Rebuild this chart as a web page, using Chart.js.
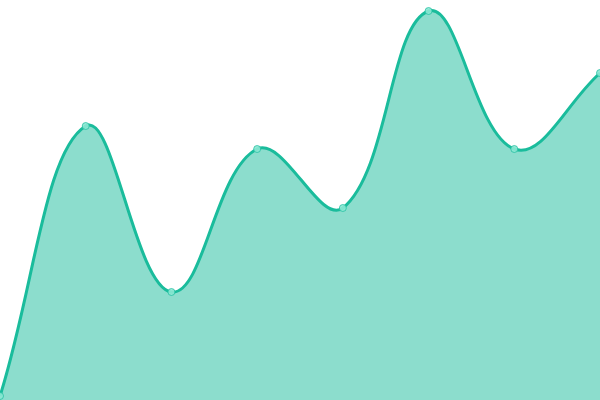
<!DOCTYPE html>
<html>
<head>
<meta charset="utf-8">
<script src="https://cdn.jsdelivr.net/npm/chart.js@4"></script>
<style>
  html, body { margin: 0; padding: 0; background: #fff; }
  #wrap { width: 600px; height: 400px; }
</style>
</head>
<body>
<div id="wrap"><canvas id="areaChart"></canvas></div>
<script>
const labels = ['A', 'B', 'C', 'D', 'E', 'F', 'G', 'H'];
const values = [4, 274, 108, 251, 192, 389, 251, 327];

const lineColor = '#1abc9c';
const fillColor = 'rgba(26, 188, 156, 0.5)';

new Chart(document.getElementById('areaChart'), {
    type: 'line',
    data: {
        labels: labels,
        datasets: [{
            data: values,
            borderColor: lineColor,
            backgroundColor: fillColor,
            borderWidth: 3,
            fill: true,
            tension: 0.4,
            pointRadius: 3.5,
            pointBorderWidth: 1,
            pointBackgroundColor: 'rgba(140, 232, 212, 0.9)',
            pointBorderColor: 'rgba(26, 188, 156, 0.7)'
        }]
    },
    options: {
        responsive: true,
        maintainAspectRatio: false,
        animation: false,
        layout: { padding: 0, autoPadding: false },
        plugins: { legend: { display: false }, tooltip: { enabled: false } },
        scales: {
            x: { display: false, offset: false },
            y: { display: false, min: 0, max: 400 }
        }
    }
});
</script>
</body>
</html>
